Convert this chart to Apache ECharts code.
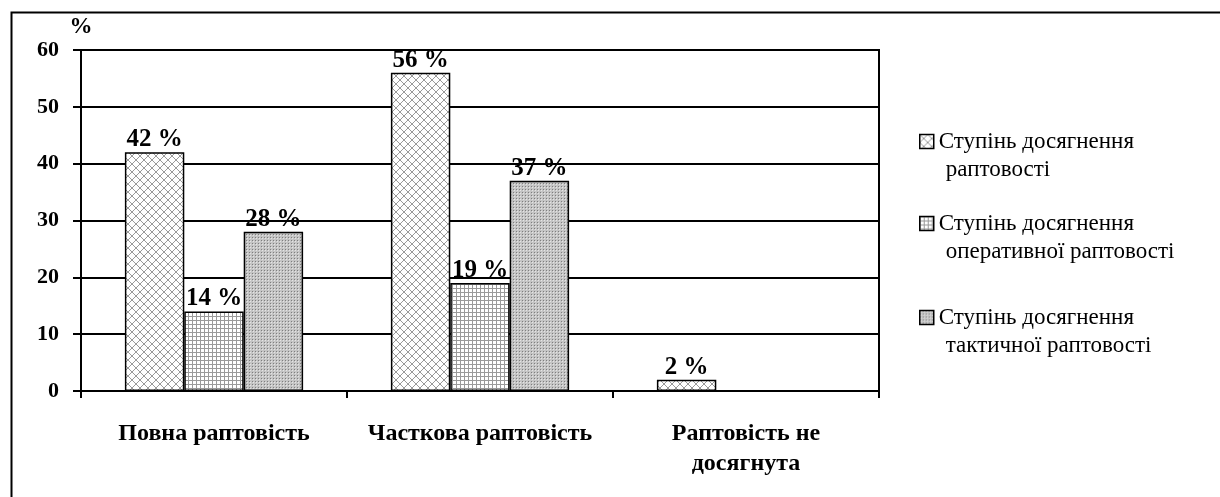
<!DOCTYPE html>
<html>
<head>
<meta charset="utf-8">
<script src="https://cdn.jsdelivr.net/npm/echarts@6/dist/echarts.min.js"></script>
<style>
  html, body { margin: 0; padding: 0; background: #fff; }
  #chart { width: 1220px; height: 497px; }
</style>
</head>
<body>
<div id="chart"></div>
<script>
// дані діаграми
const categories = ["Повна раптовість", "Часткова раптовість", "Раптовість не\nдосягнута"];
const seriesNames = [
  "Ступінь досягнення раптовості",
  "Ступінь досягнення оперативної раптовості",
  "Ступінь досягнення тактичної раптовості",
];
const legendLines = [
  ["Ступінь досягнення", "раптовості"],
  ["Ступінь досягнення", "оперативної раптовості"],
  ["Ступінь досягнення", "тактичної раптовості"],
];
const fullValues = [42, 56, 2];
const operativeValues = [14, 19, null];
const tacticalValues = [28, 37, null];
const yTicks = [0, 10, 20, 30, 40, 50, 60];

const serif = "Liberation Serif";

// штрихування як у Excel
function makePattern(kind) {
  const c = document.createElement("canvas");
  const ctx = c.getContext("2d");
  if (kind === "cross") {
    c.width = 8; c.height = 8;
    ctx.fillStyle = "#fff";
    ctx.fillRect(0, 0, 8, 8);
    ctx.strokeStyle = "#9a9a9a";
    ctx.lineWidth = 1;
    ctx.beginPath();
    ctx.moveTo(0, 0); ctx.lineTo(8, 8);
    ctx.moveTo(8, 0); ctx.lineTo(0, 8);
    ctx.stroke();
  } else if (kind === "grid") {
    c.width = 4; c.height = 4;
    ctx.fillStyle = "#fff";
    ctx.fillRect(0, 0, 4, 4);
    ctx.fillStyle = "#9a9a9a";
    ctx.fillRect(0, 0, 4, 1);
    ctx.fillRect(0, 0, 1, 4);
  } else {
    c.width = 3; c.height = 3;
    ctx.fillStyle = "#c4c4c4";
    ctx.fillRect(0, 0, 3, 3);
    ctx.fillStyle = "#7e7e7e";
    ctx.fillRect(0, 0, 1, 1);
    ctx.fillStyle = "#e4e4e4";
    ctx.fillRect(1, 1, 1, 1);
  }
  return { image: c, repeat: "repeat" };
}

const patterns = [makePattern("cross"), makePattern("grid"), makePattern("dots")];
const values = [fullValues, operativeValues, tacticalValues];

const chart = echarts.init(document.getElementById("chart"));

// верх кожного блоку легенди (порожній рядок + два рядки тексту)
const legendTops = [97, 179, 273];

const option = {
  animation: false,
  backgroundColor: "#fff",
  textStyle: { fontFamily: serif, color: "#000" },
  graphic: [
    {
      type: "rect",
      left: 9,
      top: 10,
      shape: { width: 1240, height: 520 },
      style: { fill: "none", stroke: "#000", lineWidth: 2 },
      silent: true,
    },
  ],
  legend: legendTops.map((top, i) => ({
    data: [seriesNames[i]],
    orient: "vertical",
    left: 914,
    top: top,
    itemWidth: 14,
    itemHeight: 14,
    itemGap: 0,
    icon: "rect",
    itemStyle: { borderColor: "#000", borderWidth: 1.5 },
    selectedMode: false,
    formatter: () => "{s| }\n{a|" + legendLines[i][0] + "}\n{b|" + legendLines[i][1] + "}",
    textStyle: {
      fontFamily: serif,
      fontSize: 23,
      color: "#000",
      rich: {
        s: { fontFamily: serif, fontSize: 23, lineHeight: 28, color: "#000" },
        a: { fontFamily: serif, fontSize: 23, lineHeight: 28, color: "#000" },
        b: { fontFamily: serif, fontSize: 23, lineHeight: 28, color: "#000", padding: [0, 0, 0, 7] },
      },
    },
  })),
  grid: {
    left: 81,
    right: 341,
    top: 50,
    bottom: 106,
    show: true,
    borderColor: "#000",
    borderWidth: 2,
    backgroundColor: "transparent",
  },
  xAxis: {
    type: "category",
    data: categories,
    axisLine: { lineStyle: { color: "#000", width: 2 } },
    axisTick: { show: true, interval: 0, length: 7, lineStyle: { color: "#000", width: 2 } },
    axisLabel: {
      interval: 0,
      hideOverlap: false,
      color: "#000",
      fontFamily: serif,
      fontWeight: "bold",
      fontSize: 24,
      lineHeight: 30,
      margin: 28,
    },
  },
  yAxis: {
    type: "value",
    min: yTicks[0],
    max: yTicks[yTicks.length - 1],
    interval: 10,
    name: "%",
    nameLocation: "end",
    nameGap: 11,
    nameTextStyle: { color: "#000", fontFamily: serif, fontWeight: "bold", fontSize: 23, align: "center" },
    axisLine: { show: true, lineStyle: { color: "#000", width: 2 } },
    axisTick: { show: true, length: 8, lineStyle: { color: "#000", width: 2 } },
    axisLabel: { color: "#000", fontFamily: serif, fontWeight: "bold", fontSize: 22, margin: 22 },
    splitLine: { show: true, lineStyle: { color: "#000", width: 2 } },
  },
  series: seriesNames.map((name, i) => ({
    name: name,
    type: "bar",
    data: values[i],
    barGap: "0%",
    barCategoryGap: "33%",
    itemStyle: { color: patterns[i], borderColor: "#000", borderWidth: 1.5 },
    label: {
      show: true,
      position: "top",
      distance: 0,
      formatter: (p) => p.value + " %",
      color: "#000",
      fontFamily: serif,
      fontWeight: "bold",
      fontSize: 25,
    },
  })),
};

chart.setOption(option);
</script>
</body>
</html>
